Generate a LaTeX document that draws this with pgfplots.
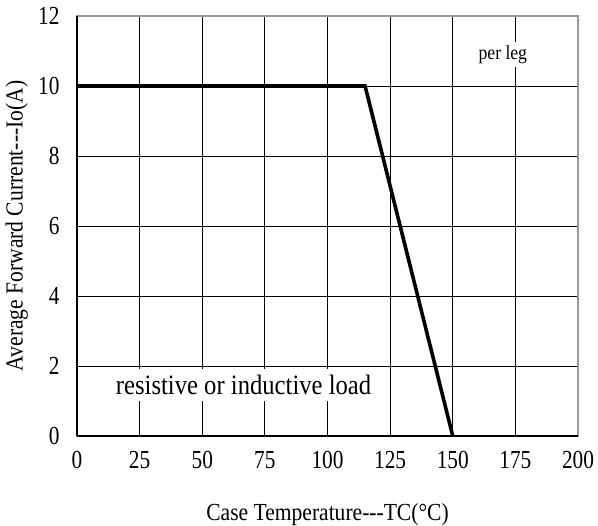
\documentclass[border=0pt]{standalone}
\usepackage{pgfplots}
\pgfplotsset{compat=1.18}
\usepackage{fontspec}
\setmainfont{Liberation Serif}[FakeStretch=0.88]
\newfontfamily\tickfont{Liberation Serif}[FakeStretch=0.82]
\begin{document}
\begin{tikzpicture}
\begin{axis}[
    scale only axis,
    width=501bp, height=420bp,
    xmin=0, xmax=200, ymin=0, ymax=12,
    xtick={0,25,...,200},
    ytick={0,2,...,12},
    grid=major,
    major grid style={black, line width=0.9bp},
    major tick length=0pt,
    axis line style={draw=gray!80, line width=1.6bp},
    tick label style={font=\tickfont\fontsize{26bp}{28bp}\selectfont},
    /pgf/number format/assume math mode=true,
    xticklabel style={yshift=-12bp},
    yticklabel style={xshift=-14bp},
    xlabel={Case Temperature-{}-{}-TC(\textdegree C)},
    ylabel={Average Forward Current-{}-{}-Io(A)},
    label style={font=\fontsize{24.5bp}{26bp}\selectfont},
    xlabel style={at={(axis description cs:0.5,-0.188)}, anchor=center},
    ylabel style={at={(axis description cs:-0.12,0.5)}, anchor=center},
    clip=false,
]
\draw[black, line width=1.8bp] (rel axis cs:0,0) -- (rel axis cs:0,1);
\draw[black, line width=1.8bp] (rel axis cs:0,0) -- (rel axis cs:1,0);
\addplot[black, line width=3.6bp, line join=miter] coordinates {
(0,10)
(115,10)
(150,0)
};
\node[fill=white, inner sep=3bp, font=\fontsize{20bp}{22bp}\selectfont] at (axis cs:170,10.9) {per leg};
\node[fill=white, inner xsep=6bp, inner ysep=6bp, font=\fontsize{28bp}{30bp}\selectfont] at (axis cs:66.5,1.45) {resistive or inductive load};
\end{axis}
\pgfresetboundingbox
\path[use as bounding box] (-77bp,-90bp) rectangle (521bp,436bp);
\end{tikzpicture}
\end{document}
